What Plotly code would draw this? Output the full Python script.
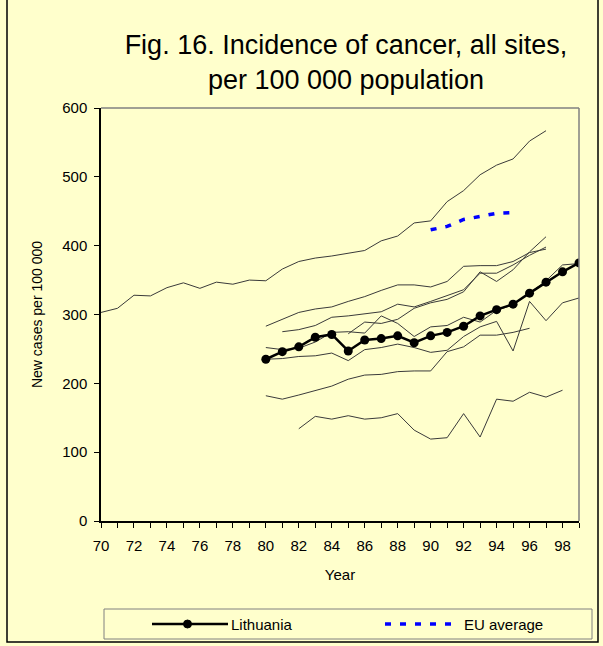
import plotly.graph_objects as go

# ---------------- data ----------------
# Lithuania (bold, markers)
lith_years = list(range(80, 100))
lith_vals = [235, 246, 253, 267, 271, 247, 263, 265, 269, 259,
             269, 274, 283, 298, 307, 315, 331, 347, 362, 375]

# EU average (blue dotted)
eu_years = [90, 91, 92, 93, 94, 95]
eu_vals = [423, 428, 438, 443, 447, 448]

# Other countries (thin grey lines)
c1_years = list(range(70, 98))
c1_vals = [303, 309, 328, 327, 339, 346, 338, 347, 344, 350,
           349, 366, 377, 382, 385, 389, 393, 407, 414, 433,
           436, 464, 480, 503, 517, 526, 552, 567]

c2_years = list(range(80, 98))
c2_vals = [283, 293, 303, 308, 311, 319, 326, 335, 343, 343,
           340, 348, 370, 371, 371, 377, 390, 395]

c3_years = list(range(81, 98))
c3_vals = [275, 278, 284, 296, 298, 301, 304, 315, 311, 319,
           328, 336, 360, 360, 372, 386, 398]

c4_years = list(range(85, 98))
c4_vals = [272, 289, 287, 293, 309, 317, 322, 333, 362, 348,
           365, 391, 413]

c5_years = list(range(80, 100))
c5_vals = [252, 249, 251, 260, 274, 275, 273, 298, 287, 268,
           282, 284, 296, 289, 306, 314, 331, 349, 372, 374]

c6_years = list(range(80, 100))
c6_vals = [235, 236, 239, 240, 244, 233, 249, 252, 257, 252,
           245, 248, 268, 282, 290, 247, 319, 291, 317, 324]

c7_years = list(range(80, 97))
c7_vals = [182, 177, 183, 190, 196, 206, 212, 213, 217, 218,
           218, 246, 253, 270, 270, 274, 280]

c8_years = list(range(82, 99))
c8_vals = [134, 152, 148, 153, 148, 150, 156, 132, 119, 121,
           156, 122, 177, 174, 187, 180, 190]

others = [(c1_years, c1_vals), (c2_years, c2_vals), (c3_years, c3_vals),
          (c4_years, c4_vals), (c5_years, c5_vals), (c6_years, c6_vals),
          (c7_years, c7_vals), (c8_years, c8_vals)]

legend_labels = ["Lithuania", "EU average"]

x_tick_vals = list(range(70, 99, 2))
x_tick_text = [str(v) for v in x_tick_vals]
y_tick_vals = [0, 100, 200, 300, 400, 500, 600]

# ---------------- figure ----------------
BG = "#FFFFCC"
FONT = "Liberation Sans, Arial, sans-serif"
LITH_COLOR = "#000000"
EU_COLOR = "#0000FF"
EU_DASH = "6px,9px"

fig = go.Figure()

for yrs, vals in others:
    fig.add_trace(go.Scatter(x=yrs, y=vals, mode="lines",
                             line=dict(color="#3a3a3a", width=1),
                             showlegend=False, hoverinfo="skip"))

fig.add_trace(go.Scatter(x=eu_years, y=eu_vals, mode="lines", name=legend_labels[1],
                         line=dict(color=EU_COLOR, width=3.5, dash=EU_DASH),
                         showlegend=False))

fig.add_trace(go.Scatter(x=lith_years, y=lith_vals, mode="lines+markers",
                         name=legend_labels[0],
                         line=dict(color=LITH_COLOR, width=2.5),
                         marker=dict(color=LITH_COLOR, size=9, symbol="circle"),
                         showlegend=False))

W, H = 603, 646
L, R, T, B = 101, 579, 108, 521
pw, ph = R - L, B - T


def px_x(p):
    return (p - L) / pw


def px_y(p):
    return (B - p) / ph


LEG_Y = 624
legend_shapes = [
    # legend box
    dict(type="rect", xref="paper", yref="paper",
         x0=px_x(104), x1=px_x(592), y0=px_y(639), y1=px_y(609),
         line=dict(color="#808080", width=1), fillcolor="rgba(0,0,0,0)"),
    # Lithuania sample
    dict(type="line", xref="paper", yref="paper",
         x0=px_x(152), x1=px_x(228), y0=px_y(LEG_Y), y1=px_y(LEG_Y),
         line=dict(color=LITH_COLOR, width=2.5)),
    dict(type="circle", xref="paper", yref="paper",
         x0=px_x(183.5), x1=px_x(191.5), y0=px_y(LEG_Y + 4), y1=px_y(LEG_Y - 4),
         line=dict(color=LITH_COLOR, width=1), fillcolor=LITH_COLOR),
    # EU sample
    dict(type="line", xref="paper", yref="paper",
         x0=px_x(385), x1=px_x(460), y0=px_y(LEG_Y), y1=px_y(LEG_Y),
         line=dict(color=EU_COLOR, width=3.5, dash=EU_DASH)),
]

legend_annotations = [
    dict(text=legend_labels[0], xref="paper", yref="paper",
         x=px_x(229), y=px_y(LEG_Y), xanchor="left", yanchor="middle",
         showarrow=False, font=dict(family=FONT, size=15, color="#000000")),
    dict(text=legend_labels[1], xref="paper", yref="paper",
         x=px_x(462), y=px_y(LEG_Y), xanchor="left", yanchor="middle",
         showarrow=False, font=dict(family=FONT, size=15, color="#000000")),
]

fig.update_layout(
    width=W, height=H,
    paper_bgcolor=BG, plot_bgcolor=BG,
    margin=dict(l=L, r=W - R, t=T, b=H - B, pad=0, autoexpand=False),
    font=dict(family=FONT, size=14, color="#000000"),
    title=dict(text="Fig. 16. Incidence of cancer, all sites,<br>per 100 000 population",
               x=346 / W, xanchor="center", xref="container",
               y=1 - 54 / H, yanchor="top", yref="container",
               font=dict(family=FONT, size=27, color="#000000")),
    showlegend=False,
    xaxis=dict(range=[70, 99], tickmode="array", tickvals=x_tick_vals,
               ticktext=x_tick_text, ticks="outside", ticklen=5,
               tickcolor="#000000", showline=True, linecolor="#000000",
               linewidth=1.5, mirror=False, showgrid=False, zeroline=False,
               tickfont=dict(size=15), ticklabelstandoff=5,
               minor=dict(dtick=1, tick0=70, ticks="outside", ticklen=5,
                          tickcolor="#000000", showgrid=False),
               title=dict(text="Year", font=dict(size=15), standoff=17)),
    yaxis=dict(range=[0, 600], tickmode="array", tickvals=y_tick_vals,
               ticks="outside", ticklen=5, tickcolor="#000000",
               showline=True, linecolor="#000000", linewidth=1.5,
               showgrid=False, zeroline=False, tickfont=dict(size=15),
               ticklabelstandoff=4,
               title=dict(text="New cases per 100 000", font=dict(size=14),
                          standoff=16)),
    shapes=[
        # plot frame top/right (grey)
        dict(type="line", xref="paper", yref="paper", x0=0, x1=1, y0=1, y1=1,
             line=dict(color="#808080", width=1.5)),
        dict(type="line", xref="paper", yref="paper", x0=1, x1=1, y0=0, y1=1,
             line=dict(color="#808080", width=1.5)),
        # outer chart border
        dict(type="rect", xref="paper", yref="paper",
             x0=px_x(7), x1=px_x(598), y0=px_y(642), y1=px_y(-3),
             line=dict(color="#000000", width=1.5), fillcolor="rgba(0,0,0,0)"),
    ] + legend_shapes,
    annotations=legend_annotations,
)

fig.write_html("out.html", config={"displayModeBar": False},
               post_script="document.body.style.margin='0';document.body.style.padding='0';")
